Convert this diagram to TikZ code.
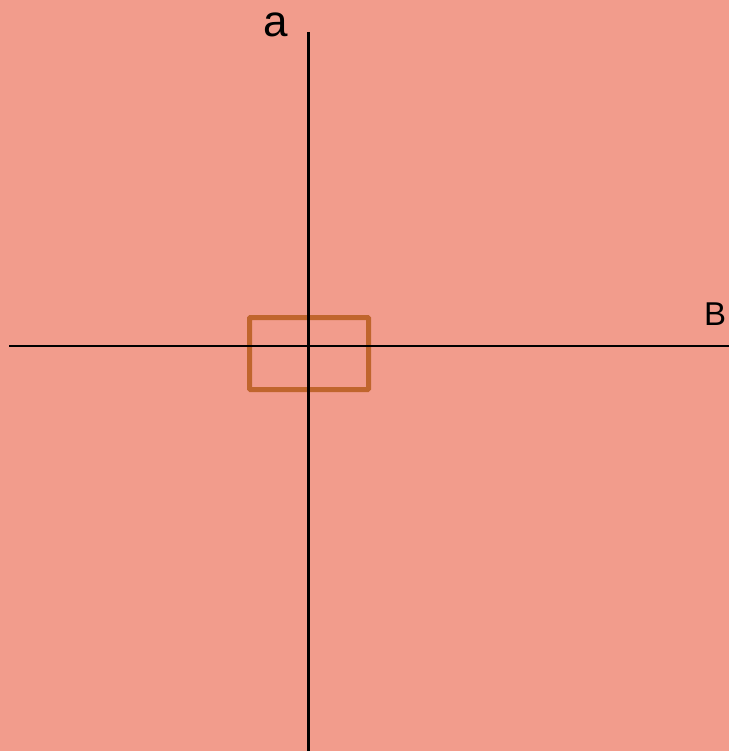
\documentclass[tikz,border=0pt]{standalone}
\usepackage{fontspec}
\setmainfont{Liberation Sans}
\usepackage{xcolor}
\usepackage{tikz}
\usetikzlibrary{positioning}
\definecolor{salmon}{HTML}{F29C8C}
\definecolor{rust}{HTML}{C0652D}

\begin{document}
\begin{tikzpicture}[
  x=1pt,y=-1pt,
  axis/.style={draw=black,line width=2.2pt},
  frame/.style={draw=rust,line width=5pt,rounded corners=1pt,minimum width=119pt,minimum height=72pt,inner sep=0pt},
  lbl/.style={inner sep=0pt,text=black,anchor=base}
]
\useasboundingbox (0,0) rectangle (729,751);
\fill[salmon] (0,0) rectangle (729,751);
\coordinate (top) at (308.5,32);
\coordinate (bot) at (308.5,751);
\coordinate (left) at (9,346);
\coordinate (right) at (729,346);
\node[frame] (win) at (309,353.5) {};
\node[lbl,font=\fontsize{44}{50}\selectfont] (la) at (275.5,37) {a};
\node[lbl,font=\fontsize{33}{38}\selectfont] (lb) at (715,325.5) {B};
\draw[axis] (top) -- (bot);
\draw[axis] (left) -- (right);
\end{tikzpicture}
\end{document}
